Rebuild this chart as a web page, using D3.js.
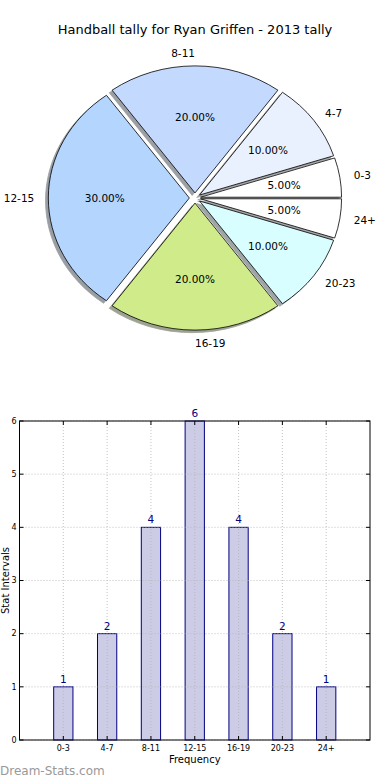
<!DOCTYPE html>
<html>
<head>
<meta charset="utf-8">
<script src="https://cdn.jsdelivr.net/npm/d3@7"></script>
<style>
  html, body { margin: 0; padding: 0; background: #fff; }
  svg { display: block; font-family: "DejaVu Sans", sans-serif; }
</style>
</head>
<body>
<script>
const title = "Handball tally for Ryan Griffen - 2013 tally";
const categories = ["0-3", "4-7", "8-11", "12-15", "16-19", "20-23", "24+"];
const counts = [1, 2, 4, 6, 4, 2, 1];
const sliceColors = ["#ffffff", "#eaf1fe", "#c4d9fe", "#b4d6fe", "#d0eb8a", "#d8feff", "#ffffff"];
const yTicks = [0, 1, 2, 3, 4, 5, 6];
const xLabel = "Frequency";
const yLabel = "Stat Intervals";
const watermark = "Dream-Stats.com";

const W = 390, H = 780;
const svg = d3.select("body").append("svg").attr("width", W).attr("height", H);

// Title
svg.append("text").attr("x", 195).attr("y", 34).attr("text-anchor", "middle")
  .attr("font-size", 13).attr("fill", "#000").text(title);

// ---------- Pie ----------
const cx = 195, cy = 198, sx = 141, sy = 127;
const explode = 0.04;
const total = d3.sum(counts);
const pie = d3.pie().sort(null).value(d => d)
  .startAngle(Math.PI / 2).endAngle(Math.PI / 2 - 2 * Math.PI);
const arcs = pie(counts);
const arc = d3.arc().innerRadius(0).outerRadius(1);

function darker(c) {
  const rgb = d3.rgb(c);
  return d3.rgb(rgb.r * 0.3, rgb.g * 0.3, rgb.b * 0.3).toString();
}

const pieG = svg.append("g");
// shadows first
arcs.forEach((a, i) => {
  const mid = (a.startAngle + a.endAngle) / 2;
  const ox = explode * Math.sin(mid) * sx - 0.02 * sx;
  const oy = -explode * Math.cos(mid) * sy + 0.02 * sy;
  pieG.append("path")
    .attr("d", arc(a))
    .attr("transform", `translate(${cx + ox},${cy + oy}) scale(${sx},${sy})`)
    .attr("fill", darker(sliceColors[i]))
    .attr("stroke", darker(sliceColors[i]))
    .attr("stroke-width", 0.8)
    .attr("vector-effect", "non-scaling-stroke")
    .attr("opacity", 0.5);
});
arcs.forEach((a, i) => {
  const mid = (a.startAngle + a.endAngle) / 2;
  const ox = explode * Math.sin(mid) * sx;
  const oy = -explode * Math.cos(mid) * sy;
  pieG.append("path")
    .attr("d", arc(a))
    .attr("transform", `translate(${cx + ox},${cy + oy}) scale(${sx},${sy})`)
    .attr("fill", sliceColors[i])
    .attr("stroke", "#000")
    .attr("stroke-width", 0.8)
    .attr("vector-effect", "non-scaling-stroke");
});
// labels
arcs.forEach((a, i) => {
  const mid = (a.startAngle + a.endAngle) / 2;
  const ux = Math.sin(mid), uy = -Math.cos(mid);
  const ex = cx + explode * ux * sx, ey = cy + explode * uy * sy;
  let anchor;
  if (ux > 1e-6) anchor = "start";
  else if (ux < -1e-6) anchor = "end";
  else anchor = uy < 0 ? "end" : "start";
  pieG.append("text")
    .attr("x", ex + 1.1 * ux * sx).attr("y", ey + 1.1 * uy * sy)
    .attr("dy", "0.36em").attr("text-anchor", anchor)
    .attr("font-size", 10.5).attr("fill", "#000")
    .text(categories[i]);
  pieG.append("text")
    .attr("x", ex + 0.6 * ux * sx).attr("y", ey + 0.6 * uy * sy)
    .attr("dy", "0.36em").attr("text-anchor", "middle")
    .attr("font-size", 10.5).attr("fill", "#000")
    .text((a.value / total * 100).toFixed(2) + "%");
});

// ---------- Bar chart ----------
const L = 19.5, R = 370, T = 421, B = 740;
const x = d3.scaleLinear().domain([-1, 7]).range([L, R]);
const y = d3.scaleLinear().domain([0, 6]).range([B, T]);
const barW = 0.44;
const g = svg.append("g");

// bars
g.selectAll("rect.bar").data(counts).join("rect")
  .attr("class", "bar")
  .attr("x", (d, i) => x(i - barW / 2))
  .attr("width", x(barW) - x(0))
  .attr("y", d => y(d))
  .attr("height", d => y(0) - y(d))
  .attr("fill", "#cccce6")
  .attr("stroke", "#000080")
  .attr("stroke-width", 1);

// grid
const gridColor = "#b4b4b4";
yTicks.forEach(t => {
  g.append("line").attr("x1", L).attr("x2", R).attr("y1", y(t)).attr("y2", y(t))
    .attr("stroke", gridColor).attr("stroke-width", 0.8).attr("stroke-dasharray", "1,2");
});
categories.forEach((c, i) => {
  g.append("line").attr("x1", x(i)).attr("x2", x(i)).attr("y1", T).attr("y2", B)
    .attr("stroke", gridColor).attr("stroke-width", 0.8).attr("stroke-dasharray", "1,2");
});

// frame
g.append("rect").attr("x", L).attr("y", T).attr("width", R - L).attr("height", B - T)
  .attr("fill", "none").attr("stroke", "#000").attr("stroke-width", 1);

// ticks (inward)
yTicks.forEach(t => {
  g.append("line").attr("x1", L).attr("x2", L + 4).attr("y1", y(t)).attr("y2", y(t)).attr("stroke", "#000");
  g.append("line").attr("x1", R - 4).attr("x2", R).attr("y1", y(t)).attr("y2", y(t)).attr("stroke", "#000");
  g.append("text").attr("x", L - 3).attr("y", y(t)).attr("dy", "0.35em")
    .attr("text-anchor", "end").attr("font-size", 8).attr("fill", "#000").text(t);
});
categories.forEach((c, i) => {
  g.append("line").attr("x1", x(i)).attr("x2", x(i)).attr("y1", B).attr("y2", B - 4).attr("stroke", "#000");
  g.append("line").attr("x1", x(i)).attr("x2", x(i)).attr("y1", T).attr("y2", T + 4).attr("stroke", "#000");
  g.append("text").attr("x", x(i)).attr("y", B + 11)
    .attr("text-anchor", "middle").attr("font-size", 8).attr("fill", "#000").text(c);
});

// value labels
g.selectAll("text.val").data(counts).join("text")
  .attr("class", "val")
  .attr("x", (d, i) => x(i)).attr("y", d => y(d) - 4)
  .attr("text-anchor", "middle").attr("font-size", 10.5).attr("fill", "#000080")
  .text(d => d);

// axis labels
g.append("text").attr("x", (L + R) / 2).attr("y", B + 23).attr("text-anchor", "middle")
  .attr("font-size", 10).attr("fill", "#000").text(xLabel);
g.append("text").attr("transform", `translate(9,${(T + B) / 2}) rotate(-90)`)
  .attr("text-anchor", "middle").attr("font-size", 10).attr("fill", "#000").text(yLabel);

// watermark
svg.append("text").attr("x", 0).attr("y", 775).attr("font-size", 12)
  .attr("fill", "#999999").text(watermark);
</script>
</body>
</html>
